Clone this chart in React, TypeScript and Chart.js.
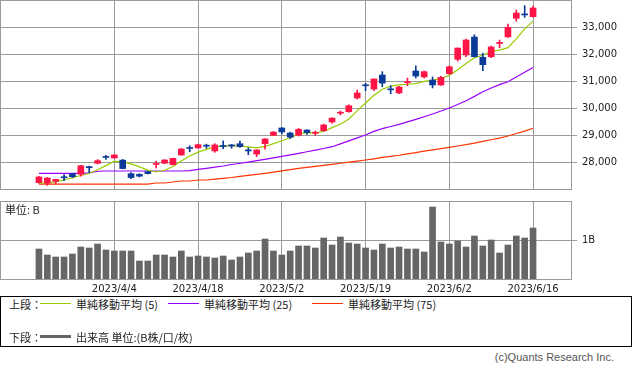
import React, { useEffect, useRef } from "react";
import { Chart, registerables } from "chart.js";

Chart.register(...registerables);

// ---- data ----
const dates = [
  "2023/3/22", "2023/3/23", "2023/3/24", "2023/3/27", "2023/3/28", "2023/3/29", "2023/3/30", "2023/3/31", "2023/4/3", "2023/4/4",
  "2023/4/5", "2023/4/6", "2023/4/7", "2023/4/10", "2023/4/11", "2023/4/12", "2023/4/13", "2023/4/14", "2023/4/17", "2023/4/18",
  "2023/4/19", "2023/4/20", "2023/4/21", "2023/4/24", "2023/4/25", "2023/4/26", "2023/4/27", "2023/4/28", "2023/5/1", "2023/5/2",
  "2023/5/8", "2023/5/9", "2023/5/10", "2023/5/11", "2023/5/12", "2023/5/15", "2023/5/16", "2023/5/17", "2023/5/18", "2023/5/19",
  "2023/5/22", "2023/5/23", "2023/5/24", "2023/5/25", "2023/5/26", "2023/5/29", "2023/5/30", "2023/5/31", "2023/6/1", "2023/6/2",
  "2023/6/5", "2023/6/6", "2023/6/7", "2023/6/8", "2023/6/9", "2023/6/12", "2023/6/13", "2023/6/14", "2023/6/15", "2023/6/16",
];
const tickIndices = [9, 19, 29, 39, 49, 59];

const opens = [
  27270, 27250, 27320, 27460, 27600, 27580, 27860, 27985, 28210, 28180,
  28100, 27600, 27575, 27675, 27940, 27985, 27935, 28290, 28540, 28550,
  28625, 28440, 28625, 28640, 28705, 28455, 28325, 28705, 29015, 29285,
  29100, 29015, 29210, 29090, 29185, 29505, 29830, 29885, 30390, 30850,
  30720, 31235, 30700, 30575, 30955, 31385, 31165, 31050, 30870, 31285,
  31815, 31975, 32635, 31890, 31910, 32400, 32640, 33325, 33465, 33385,
];
const highs = [
  27500, 27460, 27400, 27565, 27610, 27900, 27880, 28120, 28280, 28300,
  28130, 27640, 27600, 27690, 28060, 28120, 28180, 28530, 28630, 28690,
  28690, 28705, 28810, 28680, 28800, 28560, 28480, 28890, 29150, 29300,
  29130, 29270, 29215, 29175, 29430, 29660, 29910, 30140, 30685, 30930,
  31095, 31360, 30845, 30820, 31125, 31570, 31385, 31165, 31190, 31570,
  32235, 32560, 32720, 32040, 32305, 32525, 33115, 33630, 33790, 33780,
];
const lows = [
  27250, 27170, 27220, 27345, 27450, 27510, 27640, 27960, 28130, 28170,
  27780, 27420, 27480, 27590, 27810, 27970, 27920, 28280, 28410, 28540,
  28535, 28390, 28520, 28540, 28570, 28300, 28230, 28500, 29000, 29065,
  28900, 28990, 29050, 29015, 29160, 29460, 29765, 29860, 30350, 30660,
  30660, 30805, 30550, 30550, 30845, 31125, 31125, 30760, 30855, 31260,
  31750, 31910, 31900, 31395, 31875, 32240, 32620, 33215, 33360, 33370,
];
const closes = [
  27480, 27440, 27390, 27450, 27490, 27895, 27820, 28080, 28200, 28290,
  27790, 27460, 27510, 27605, 27950, 28105, 28165, 28510, 28530, 28670,
  28615, 28660, 28600, 28625, 28600, 28440, 28475, 28880, 29135, 29140,
  28945, 29235, 29115, 29105, 29395, 29650, 29845, 30105, 30575, 30840,
  31090, 30940, 30690, 30795, 30970, 31200, 31360, 30870, 31150, 31540,
  32230, 32525, 31910, 31615, 32270, 32440, 32995, 33520, 33450, 33705,
];
const ma5 = [
  27240, 27260, 27300, 27370, 27450, 27533, 27609, 27747, 27897, 28057,
  28036, 27964, 27850, 27731, 27663, 27726, 27867, 28067, 28252, 28396,
  28498, 28597, 28617, 28636, 28622, 28587, 28550, 28604, 28706, 28814,
  28915, 29067, 29114, 29107, 29158, 29299, 29421, 29619, 29914, 30203,
  30491, 30710, 30827, 30871, 30897, 30919, 31003, 31039, 31110, 31224,
  31430, 31663, 31871, 31964, 32110, 32152, 32246, 32568, 32935, 33222,
];
const ma25 = [
  27615, 27615, 27615, 27615, 27615, 27615, 27630, 27690, 27700, 27700,
  27700, 27700, 27700, 27700, 27700, 27700, 27700, 27700, 27715, 27760,
  27800, 27840, 27885, 27940, 27985, 28030, 28080, 28130, 28185, 28240,
  28295, 28350, 28410, 28470, 28530, 28595, 28700, 28810, 28920, 29025,
  29160, 29260, 29340, 29420, 29510, 29600, 29700, 29800, 29910, 30020,
  30150, 30290, 30450, 30620, 30760, 30880, 30990, 31160, 31340, 31515,
];
const ma75 = [
  27220, 27220, 27220, 27220, 27220, 27220, 27220, 27220, 27220, 27220,
  27220, 27220, 27220, 27220, 27258, 27258, 27295, 27331, 27331, 27368,
  27368, 27400, 27430, 27460, 27500, 27540, 27575, 27615, 27660, 27705,
  27750, 27800, 27835, 27870, 27910, 27945, 27985, 28025, 28065, 28105,
  28150, 28200, 28240, 28280, 28330, 28380, 28430, 28480, 28525, 28572,
  28620, 28670, 28730, 28790, 28850, 28910, 28990, 29080, 29170, 29275,
];
const volumes = [
  0.775, 0.625, 0.575, 0.575, 0.65, 0.825, 0.8, 0.9, 0.75, 0.725,
  0.725, 0.725, 0.475, 0.475, 0.625, 0.625, 0.575, 0.725, 0.575, 0.6,
  0.575, 0.55, 0.6, 0.5, 0.575, 0.675, 0.725, 1.025, 0.725, 0.625,
  0.725, 0.85, 0.85, 0.8, 1.05, 0.875, 1.075, 0.925, 0.9, 0.8,
  0.75, 0.9, 0.8, 0.825, 0.775, 0.775, 0.7, 1.825, 0.95, 0.9,
  0.975, 0.825, 1.1, 0.85, 1.0, 0.675, 0.875, 1.1, 1.05, 1.3,
];
const priceTicks = [28000, 29000, 30000, 31000, 32000, 33000];
const volumeTicks = [1];

// ---- styles ----
const UP = "#ff1447";
const DOWN = "#0c3a98";
const MA5C = "#99cc00";
const MA25C = "#9900ff";
const MA75C = "#ff3300";
const VOLC = "#666666";
const GRID = "#9a9a9a";
const TXT = "#222222";
const TICK_FONT = { family: "'DejaVu Sans', sans-serif", size: 10 };
const X_MIN = -4.65;
const X_MAX = 63.65;

const boxPlugin = {
  id: "box",
  afterDraw(chart: any) {
    const { ctx, chartArea } = chart;
    ctx.save();
    ctx.strokeStyle = GRID;
    ctx.lineWidth = 1;
    ctx.strokeRect(
      Math.round(chartArea.left) + 0.5,
      Math.round(chartArea.top) + 0.5,
      Math.round(chartArea.right - chartArea.left) - 1,
      Math.round(chartArea.bottom - chartArea.top) - 1
    );
    ctx.restore();
  },
};

function zeroPad(s: any) {
  s.paddingTop = 0;
  s.paddingBottom = 0;
  s.paddingLeft = 0;
  s.paddingRight = 0;
}

function xScale(showLabels: boolean) {
  return {
    type: "linear",
    min: X_MIN,
    max: X_MAX,
    offset: false,
    afterBuildTicks: (s: any) => {
      s.ticks = tickIndices.map((v) => ({ value: v }));
    },
    afterFit: (s: any) => {
      s.height = showLabels ? 15 : 1;
      zeroPad(s);
    },
    ticks: {
      display: showLabels,
      autoSkip: false,
      maxRotation: 0,
      padding: 3,
      color: TXT,
      font: TICK_FONT,
      callback: (v: any) => dates[v] ?? "",
    },
    grid: { color: GRID, drawTicks: false, offset: false },
    border: { display: false },
  };
}

function yAxisFit(s: any) {
  s.width = 61;
  zeroPad(s);
}

export default function App() {
  const topRef = useRef<HTMLCanvasElement>(null);
  const volRef = useRef<HTMLCanvasElement>(null);

  useEffect(() => {
    const colors = opens.map((o, i) => (closes[i] >= o ? UP : DOWN));
    const top = new Chart(topRef.current!, {
      type: "bar",
      data: {
        datasets: [
          {
            type: "line",
            data: ma75.map((v, i) => ({ x: i, y: v })),
            borderColor: MA75C,
            borderWidth: 1.2,
            pointRadius: 0,
            order: 5,
          } as any,
          {
            type: "line",
            data: ma25.map((v, i) => ({ x: i, y: v })),
            borderColor: MA25C,
            borderWidth: 1.2,
            pointRadius: 0,
            order: 4,
          } as any,
          {
            type: "line",
            data: ma5.map((v, i) => ({ x: i, y: v })),
            borderColor: MA5C,
            borderWidth: 1.2,
            pointRadius: 0,
            order: 3,
          } as any,
          {
            type: "bar",
            data: highs.map((h, i) => ({ x: i, y: [lows[i], h] })),
            backgroundColor: colors,
            barThickness: 1,
            grouped: false,
            order: 1,
          } as any,
          {
            type: "bar",
            data: opens.map((o, i) => ({ x: i, y: [o, closes[i]] })),
            backgroundColor: colors,
            barThickness: 6,
            minBarLength: 1,
            grouped: false,
            order: 0,
          } as any,
        ],
      },
      options: {
        animation: false,
        responsive: false,
        events: [],
        layout: { padding: 0 },
        plugins: { legend: { display: false }, tooltip: { enabled: false } },
        scales: {
          x: xScale(false) as any,
          y: {
            position: "right",
            min: 27000,
            max: 34000,
            afterBuildTicks: (s: any) => {
              s.ticks = priceTicks.map((v) => ({ value: v }));
            },
            afterFit: yAxisFit,
            ticks: {
              padding: 5,
              color: TXT,
              font: TICK_FONT,
              callback: (v: any) => Number(v).toLocaleString("en-US"),
            },
            grid: { color: GRID, tickLength: 5 },
            border: { display: false },
          },
        },
      },
      plugins: [boxPlugin],
    });

    const vol = new Chart(volRef.current!, {
      type: "bar",
      data: {
        datasets: [
          {
            data: volumes.map((v, i) => ({ x: i, y: v })),
            backgroundColor: VOLC,
            barThickness: 6,
            grouped: false,
          } as any,
        ],
      },
      options: {
        animation: false,
        responsive: false,
        events: [],
        layout: { padding: { top: 6, bottom: 0, left: 0, right: 0 } },
        plugins: { legend: { display: false }, tooltip: { enabled: false } },
        scales: {
          x: xScale(true) as any,
          y: {
            position: "right",
            min: 0,
            max: 1.975,
            afterBuildTicks: (s: any) => {
              s.ticks = volumeTicks.map((v) => ({ value: v }));
            },
            afterFit: yAxisFit,
            ticks: {
              padding: 5,
              color: TXT,
              font: TICK_FONT,
              callback: (v: any) => v + "B",
            },
            grid: { color: GRID, tickLength: 5 },
            border: { display: false },
          },
        },
      },
      plugins: [boxPlugin],
    });

    return () => {
      top.destroy();
      vol.destroy();
    };
  }, []);

  const cjk = "'Noto Sans CJK JP', 'DejaVu Sans', sans-serif";
  const rowText: React.CSSProperties = {
    position: "absolute",
    fontFamily: cjk,
    fontSize: 11,
    color: TXT,
    lineHeight: "14px",
    whiteSpace: "nowrap",
  };
  const line = (left: number, top: number, color: string, h: number): React.CSSProperties => ({
    position: "absolute",
    left,
    top,
    width: 31,
    height: h,
    background: color,
  });

  return (
    <div style={{ position: "fixed", left: 0, top: 0, width: 633, height: 373, background: "#fff", overflow: "hidden" }}>
      <canvas ref={topRef} width={633} height={191} style={{ position: "absolute", left: 0, top: 0, width: 633, height: 191 }} />
      <canvas ref={volRef} width={633} height={100} style={{ position: "absolute", left: 0, top: 195, width: 633, height: 100 }} />
      <div style={{ ...rowText, left: 5, top: 202 }}>単位: B</div>
      <div
        style={{
          position: "absolute",
          left: 0,
          top: 296,
          width: 632,
          height: 51,
          boxSizing: "border-box",
          border: "1px solid #000",
        }}
      >
        <div style={{ ...rowText, left: 8, top: 0 }}>上段：</div>
        <div style={line(39, 6, MA5C, 1)} />
        <div style={{ ...rowText, left: 75, top: 0 }}>単純移動平均 (5)</div>
        <div style={line(167, 6, MA25C, 1)} />
        <div style={{ ...rowText, left: 203, top: 0 }}>単純移動平均 (25)</div>
        <div style={line(311, 6, MA75C, 1)} />
        <div style={{ ...rowText, left: 347, top: 0 }}>単純移動平均 (75)</div>
        <div style={{ ...rowText, left: 8, top: 33 }}>下段：</div>
        <div style={line(39, 38, VOLC, 3)} />
        <div style={{ ...rowText, left: 75, top: 33 }}>出来高 単位:(B株/口/枚)</div>
      </div>
      <div
        style={{
          position: "absolute",
          right: 19,
          top: 351,
          fontFamily: "'Liberation Sans', sans-serif",
          fontSize: 11,
          color: "#555",
          whiteSpace: "nowrap",
        }}
      >
        (c)Quants Research Inc.
      </div>
    </div>
  );
}
